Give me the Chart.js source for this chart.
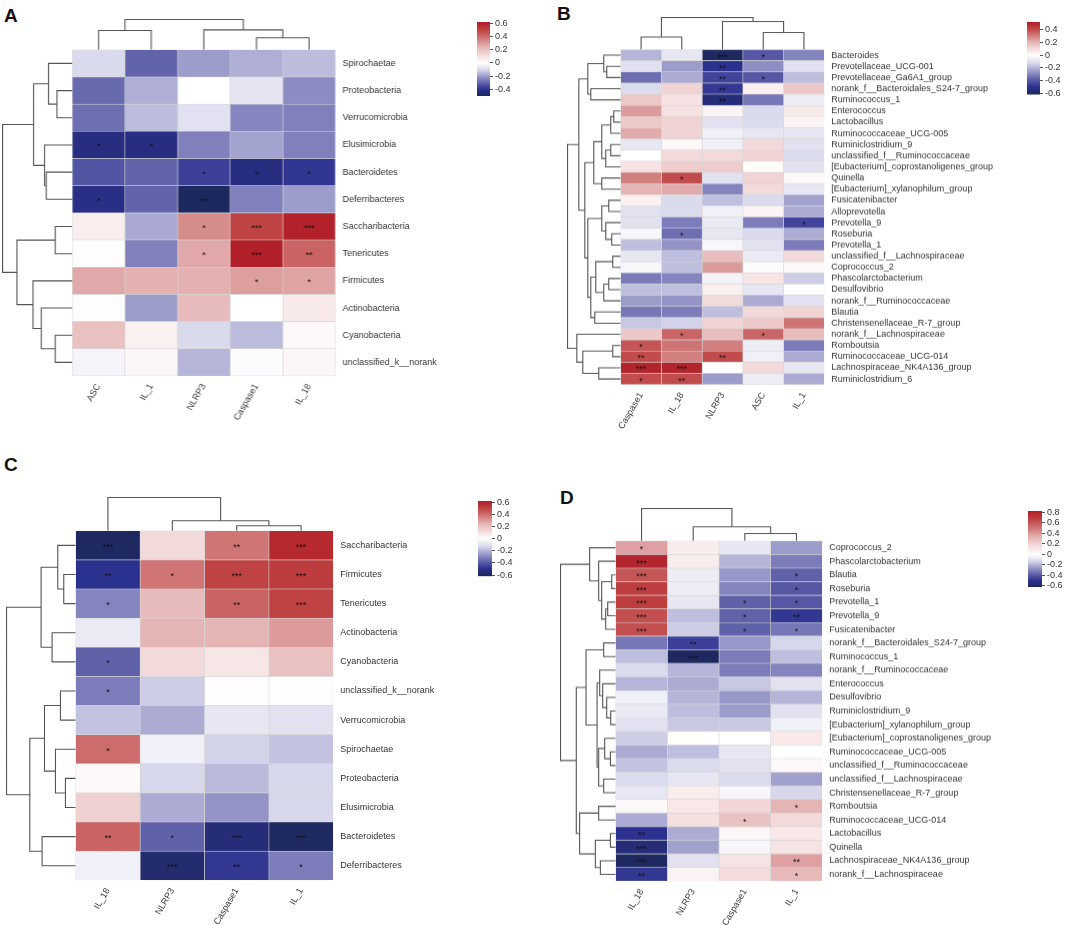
<!DOCTYPE html>
<html>
<head>
<meta charset="utf-8">
<script src="https://cdn.jsdelivr.net/npm/chart.js@4.4.1/dist/chart.umd.min.js"></script>
<style>
  body { margin: 0; background: #fff; width: 1065px; height: 925px; position: relative; overflow: hidden; }
  .box { position: absolute; }
  .tag { position: absolute; font: bold 19px "Liberation Sans", Arial, sans-serif; color: #111; line-height: 1; }
</style>
</head>
<body>
<div class="tag" style="left:4px;top:6px">A</div>
<div class="tag" style="left:557px;top:4px">B</div>
<div class="tag" style="left:4px;top:455px">C</div>
<div class="tag" style="left:560px;top:488px">D</div>

<script>
// ---- Panel A ----
const aRows = ['Spirochaetae', 'Proteobacteria', 'Verrucomicrobia', 'Elusimicrobia', 'Bacteroidetes', 'Deferribacteres',
  'Saccharibacteria', 'Tenericutes', 'Firmicutes', 'Actinobacteria', 'Cyanobacteria', 'unclassified_k__norank'];
const aCols = ['ASC', 'IL_1', 'NLRP3', 'Caspase1', 'IL_18'];
const aVals = [
  [-0.10, -0.30, -0.20, -0.17, -0.15],
  [-0.29, -0.17, 0.00, -0.07, -0.23],
  [-0.28, -0.15, -0.08, -0.24, -0.25],
  [-0.43, -0.43, -0.25, -0.19, -0.25],
  [-0.33, -0.30, -0.37, -0.43, -0.39],
  [-0.42, -0.30, -0.49, -0.25, -0.20],
  [0.06, -0.18, 0.33, 0.50, 0.60],
  [0.01, -0.25, 0.27, 0.61, 0.42],
  [0.27, 0.25, 0.25, 0.29, 0.28],
  [0.01, -0.20, 0.22, 0.00, 0.07],
  [0.20, 0.05, -0.10, -0.15, 0.02],
  [-0.03, 0.03, -0.16, -0.01, 0.03]
];
const aStars = ['. . . . .', '. . . . .', '. . . . .', '* * . . .', '. . * * *', '* . ** . .',
  '. . * *** ***', '. . * *** **', '. . . * *', '. . . . .', '. . . . .', '. . . . .'];
const aRowTree = [[1, 2, 15.3], [0, 12, 23.7], [4, 5, 26], [3, 14, 27.7], [13, 15, 38.7], [6, 7, 17],
  [10, 11, 17], [9, 18, 31], [8, 19, 39.3], [17, 20, 55.3], [16, 21, 69.7]];
const aColTree = [[3, 4, 12], [0, 1, 19.3], [2, 5, 20], [6, 7, 30.3]];
const aRange = [-0.5, 0.62];

// ---- Panel B ----
const bRows = ['Bacteroides', 'Prevotellaceae_UCG-001', 'Prevotellaceae_Ga6A1_group', 'norank_f__Bacteroidales_S24-7_group',
  'Ruminococcus_1', 'Enterococcus', 'Lactobacillus', 'Ruminococcaceae_UCG-005', 'Ruminiclostridium_9',
  'unclassified_f__Ruminococcaceae', '[Eubacterium]_coprostanoligenes_group', 'Quinella', '[Eubacterium]_xylanophilum_group',
  'Fusicatenibacter', 'Alloprevotella', 'Prevotella_9', 'Roseburia', 'Prevotella_1', 'unclassified_f__Lachnospiraceae',
  'Coprococcus_2', 'Phascolarctobacterium', 'Desulfovibrio', 'norank_f__Ruminococcaceae', 'Blautia',
  'Christensenellaceae_R-7_group', 'norank_f__Lachnospiraceae', 'Romboutsia', 'Ruminococcaceae_UCG-014',
  'Lachnospiraceae_NK4A136_group', 'Ruminiclostridium_6'];
const bCols = ['Caspase1', 'IL_18', 'NLRP3', 'ASC', 'IL_1'];
const bVals = [
  [-0.20, -0.08, -0.60, -0.40, -0.30],
  [-0.10, -0.25, -0.50, -0.28, -0.10],
  [-0.35, -0.22, -0.45, -0.40, -0.18],
  [-0.12, 0.12, -0.48, 0.04, 0.15],
  [0.15, 0.08, -0.55, -0.33, -0.06],
  [0.25, 0.08, 0.03, -0.12, 0.06],
  [0.15, 0.12, -0.10, -0.12, 0.03],
  [0.22, 0.12, -0.05, -0.08, -0.08],
  [-0.08, 0.02, -0.05, 0.10, -0.10],
  [0.00, 0.10, 0.10, 0.12, -0.12],
  [0.08, 0.14, 0.14, 0.01, -0.10],
  [0.30, 0.40, -0.10, 0.12, 0.02],
  [0.20, 0.22, -0.30, 0.10, -0.08],
  [0.04, -0.12, -0.18, -0.12, -0.24],
  [-0.10, -0.12, -0.05, 0.03, -0.22],
  [-0.10, -0.32, -0.07, -0.32, -0.45],
  [-0.03, -0.35, -0.08, -0.12, -0.22],
  [-0.18, -0.27, -0.03, -0.10, -0.32],
  [-0.08, -0.18, 0.18, -0.07, 0.10],
  [-0.03, -0.18, 0.25, 0.01, 0.02],
  [-0.32, -0.30, -0.04, 0.07, -0.15],
  [-0.18, -0.18, 0.04, -0.08, 0.00],
  [-0.25, -0.27, 0.10, -0.22, -0.10],
  [-0.33, -0.32, -0.18, 0.10, 0.12],
  [-0.16, -0.14, 0.12, 0.15, 0.32],
  [0.15, 0.35, 0.18, 0.35, 0.18],
  [0.38, 0.32, 0.30, -0.06, -0.32],
  [0.40, 0.30, 0.40, -0.05, -0.22],
  [0.50, 0.50, 0.00, 0.10, -0.08],
  [0.40, 0.40, -0.25, -0.06, -0.22]
];
const bStars = ['. . *** * .', '. . ** . .', '. . ** * .', '. . ** . .', '. . ** . .',
  '. . . . .', '. . . . .', '. . . . .', '. . . . .', '. . . . .', '. . . . .',
  '. * . . .', '. . . . .', '. . . . .', '. . . . .', '. . . . *', '. * . . .',
  '. . . . .', '. . . . .', '. . . . .', '. . . . .', '. . . . .', '. . . . .',
  '. . . . .', '. . . . .', '. * . * .', '* . . . .', '** . ** . .', '*** *** . . .', '* ** . . .'];
const bRowTree = [[1, 2, 14], [0, 30, 17], [3, 4, 30], [31, 32, 33], [5, 6, 7], [34, 7, 10], [8, 9, 10],
  [10, 36, 15], [35, 37, 19], [11, 12, 19], [38, 39, 27], [13, 14, 12], [16, 17, 9], [15, 42, 15],
  [41, 43, 19], [18, 19, 8], [20, 21, 12], [22, 46, 17], [45, 47, 25], [23, 24, 26], [48, 49, 30],
  [44, 50, 33], [40, 51, 36], [33, 52, 42], [26, 27, 8], [28, 29, 22], [54, 55, 38], [25, 56, 44], [53, 57, 53.3]];
const bColTree = [[0, 1, 12.5], [3, 4, 17], [2, 6, 28], [5, 7, 32]];
const bRange = [-0.62, 0.52];

// ---- Panel C ----
const cRows = ['Saccharibacteria', 'Firmicutes', 'Tenericutes', 'Actinobacteria', 'Cyanobacteria', 'unclassified_k__norank',
  'Verrucomicrobia', 'Spirochaetae', 'Proteobacteria', 'Elusimicrobia', 'Bacteroidetes', 'Deferribacteres'];
const cCols = ['IL_18', 'NLRP3', 'Caspase1', 'IL_1'];
const cVals = [
  [-0.60, 0.12, 0.38, 0.58],
  [-0.50, 0.38, 0.50, 0.52],
  [-0.30, 0.22, 0.42, 0.50],
  [-0.07, 0.24, 0.24, 0.30],
  [-0.38, 0.12, 0.08, 0.20],
  [-0.32, -0.15, 0.01, 0.01],
  [-0.17, -0.22, -0.08, -0.10],
  [0.40, -0.05, -0.14, -0.17],
  [0.02, -0.13, -0.19, -0.13],
  [0.15, -0.22, -0.27, -0.13],
  [0.42, -0.38, -0.55, -0.60],
  [-0.05, -0.57, -0.48, -0.32]
];
const cStars = ['*** . ** ***', '** * *** ***', '* . ** ***', '. . . .', '* . . .', '* . . .',
  '. . . .', '* . . .', '. . . .', '. . . .', '** * *** ***', '. *** ** *'];
const cRowTree = [[1, 2, 12], [0, 12, 18], [3, 4, 23.7], [13, 14, 34.7], [5, 6, 15.3], [8, 9, 10.3],
  [7, 17, 20.3], [16, 18, 31.3], [10, 11, 33.7], [19, 20, 46], [15, 21, 69.3]];
const cColTree = [[2, 3, 5], [1, 4, 10], [0, 5, 33.3]];
const cRange = [-0.62, 0.62];

// ---- Panel D ----
const dRows = ['Coprococcus_2', 'Phascolarctobacterium', 'Blautia', 'Roseburia', 'Prevotella_1', 'Prevotella_9',
  'Fusicatenibacter', 'norank_f__Bacteroidales_S24-7_group', 'Ruminococcus_1', 'norank_f__Ruminococcaceae',
  'Enterococcus', 'Desulfovibrio', 'Ruminiclostridium_9', '[Eubacterium]_xylanophilum_group',
  '[Eubacterium]_coprostanoligenes_group', 'Ruminococcaceae_UCG-005', 'unclassified_f__Ruminococcaceae',
  'unclassified_f__Lachnospiraceae', 'Christensenellaceae_R-7_group', 'Romboutsia', 'Ruminococcaceae_UCG-014',
  'Lactobacillus', 'Quinella', 'Lachnospiraceae_NK4A136_group', 'norank_f__Lachnospiraceae'];
const dCols = ['IL_18', 'NLRP3', 'Caspase1', 'IL_1'];
const dVals = [
  [0.38, 0.08, -0.08, -0.25],
  [0.78, 0.08, -0.20, -0.32],
  [0.60, -0.06, -0.26, -0.38],
  [0.68, -0.06, -0.30, -0.40],
  [0.68, -0.08, -0.38, -0.40],
  [0.62, -0.18, -0.38, -0.48],
  [0.62, -0.15, -0.38, -0.33],
  [-0.33, -0.46, -0.26, -0.13],
  [-0.18, -0.60, -0.32, -0.18],
  [-0.12, -0.20, -0.32, -0.30],
  [-0.20, -0.22, -0.16, -0.10],
  [-0.05, -0.20, -0.26, -0.20],
  [-0.07, -0.18, -0.25, -0.10],
  [-0.10, -0.16, -0.16, -0.05],
  [-0.15, 0.00, 0.00, 0.10],
  [-0.22, -0.18, -0.08, 0.00],
  [-0.17, -0.12, -0.10, 0.03],
  [-0.12, -0.08, -0.12, -0.24],
  [-0.08, 0.08, -0.03, -0.13],
  [0.03, 0.10, 0.18, 0.32],
  [-0.22, 0.14, 0.26, 0.16],
  [-0.50, -0.22, 0.04, 0.10],
  [-0.55, -0.24, -0.03, 0.12],
  [-0.60, -0.10, 0.12, 0.38],
  [-0.48, 0.05, 0.15, 0.30]
];
const dStars = ['* . . .', '*** . . .', '*** . . *', '*** . . *', '*** . * *', '*** . * **', '*** . * *',
  '. ** . .', '. *** . .', '. . . .', '. . . .', '. . . .', '. . . .', '. . . .', '. . . .', '. . . .',
  '. . . .', '. . . .', '. . . .', '. . . *', '. . * .', '** . . .', '*** . . .', '*** . . **', '** . . *'];
const dRowTree = [[2, 3, 4], [4, 5, 8], [6, 26, 10], [25, 27, 14], [1, 28, 17], [0, 29, 26], [7, 8, 12],
  [12, 13, 5], [11, 32, 9], [10, 33, 13], [9, 34, 16], [15, 16, 5.3], [14, 36, 11], [17, 18, 12],
  [37, 38, 17], [35, 39, 18.6], [31, 40, 29.6], [19, 20, 17], [21, 22, 5.3], [23, 24, 15.3],
  [43, 44, 20.3], [42, 45, 36], [41, 46, 39.3], [30, 47, 55]];
const dColTree = [[2, 3, 7.3], [1, 4, 14], [0, 5, 32.3]];
const dRange = [-0.62, 0.82];

// colour ramps (fraction of the panel's extreme -> colour)
const blueRamp = [[0, '#ffffff'], [0.2, '#dadaed'], [0.4, '#9d9dcc'], [0.6, '#6264ab'], [0.8, '#2c3190'], [1, '#1b2858']];
const redRamp = [[0, '#ffffff'], [0.2, '#f3d9d9'], [0.4, '#e4b2b2'], [0.6, '#d07878'], [0.8, '#c04444'], [1, '#b01c25']];

const hex = h => [1, 3, 5].map(i => parseInt(h.slice(i, i + 2), 16));
function rampColor(ramp, t) {
  t = Math.max(0, Math.min(1, t));
  for (let i = 1; i < ramp.length; i++) {
    if (t <= ramp[i][0]) {
      const [t0, c0] = ramp[i - 1], [t1, c1] = ramp[i];
      const f = (t - t0) / (t1 - t0), a = hex(c0), b = hex(c1);
      return 'rgb(' + a.map((v, k) => Math.round(v + (b[k] - v) * f)).join(',') + ')';
    }
  }
  return ramp[ramp.length - 1][1];
}
const colorFor = (v, [lo, hi]) => v >= 0 ? rampColor(redRamp, v / hi) : rampColor(blueRamp, v / lo);

Chart.defaults.font.family = '"Liberation Sans", Arial, sans-serif';
Chart.defaults.font.size = 9;
Chart.defaults.color = '#333';

// scales here must not push the plot area in for their end labels
const noPad = ax => { ax.paddingTop = 0; ax.paddingBottom = 0; ax.paddingLeft = 0; ax.paddingRight = 0; };

// dendrogram: links are [childA, childB, height]; ids >= n are earlier merges
function treePoints(links, n, span, rowTree) {
  const pos = [], ht = [];
  for (let i = 0; i < n; i++) { pos[i] = i + 0.5; ht[i] = 0; }
  const root = Math.max(...links.map(l => l[2]));
  const d = h => -h / root * span;
  const pts = [];
  links.forEach(([a, b, h], k) => {
    pos[n + k] = (pos[a] + pos[b]) / 2;
    ht[n + k] = h;
    [[ht[a], pos[a]], [h, pos[a]], [h, pos[b]], [ht[b], pos[b]]].forEach(([hh, p]) => {
      pts.push(rowTree ? { x: d(hh), y: p } : { x: p, y: d(hh) });
    });
    pts.push({ x: NaN, y: NaN });
  });
  return pts;
}

function addBox(left, top, width, height) {
  const div = document.createElement('div');
  div.className = 'box';
  Object.assign(div.style, { left: left + 'px', top: top + 'px', width: width + 'px', height: height + 'px' });
  const cv = document.createElement('canvas');
  div.appendChild(cv);
  document.body.appendChild(div);
  return cv;
}

function heatmap(p) {
  const nR = p.rows.length, nC = p.cols.length;
  const gw = p.grid[2] - p.grid[0], gh = p.grid[3] - p.grid[1];
  const colPx = gw / nC, rowPx = gh / nR;
  const xSpan = p.rowDendro / colPx, ySpan = p.colDendro / rowPx;
  const marks = p.stars.map(s => s.split(' ').map(t => t === '.' ? '' : t));

  const datasets = p.cols.map((c, ci) => ({
    type: 'bar',
    data: p.rows.map((r, ri) => ({ x: [ci, ci + 1], y: ri + 0.5 })),
    backgroundColor: p.rows.map((r, ri) => colorFor(p.vals[ri][ci], p.range)),
    borderColor: '#d6d6d6',
    borderWidth: 0.6,
    borderSkipped: false,
    barPercentage: 1,
    categoryPercentage: 1,
    grouped: false
  }));
  const treeStyle = { type: 'line', borderColor: '#555', borderWidth: 1.1, pointRadius: 0, spanGaps: false, clip: false, tension: 0 };
  datasets.push(Object.assign({ data: treePoints(p.rowTree, nR, xSpan, true) }, treeStyle));
  datasets.push(Object.assign({ data: treePoints(p.colTree, nC, ySpan, false) }, treeStyle));

  const cv = addBox(p.grid[0] - p.rowDendro, p.grid[1] - p.colDendro,
    p.rowDendro + gw + p.labelW, p.colDendro + gh + 70);

  new Chart(cv, {
    type: 'bar',
    data: { datasets },
    options: {
      indexAxis: 'y',
      responsive: true,
      maintainAspectRatio: false,
      animation: false,
      events: [],
      plugins: { legend: { display: false }, tooltip: { enabled: false } },
      scales: {
        x: {
          type: 'linear', position: 'bottom', min: -xSpan, max: nC,
          grid: { display: false, drawTicks: false }, border: { display: false },
          afterBuildTicks: ax => { ax.ticks = p.cols.map((c, i) => ({ value: i + 0.5 })); },
          afterFit: ax => { ax.height = 70; noPad(ax); },
          ticks: { autoSkip: false, minRotation: 60, maxRotation: 60, padding: 6, callback: (v, i) => p.cols[i] }
        },
        y: {
          type: 'linear', position: 'right', min: -ySpan, max: nR, reverse: true, offset: false,
          grid: { display: false, drawTicks: false }, border: { display: false },
          afterBuildTicks: ax => { ax.ticks = p.rows.map((r, i) => ({ value: i + 0.5 })); },
          afterFit: ax => { ax.width = p.labelW; noPad(ax); },
          ticks: { autoSkip: false, padding: 7, callback: (v, i) => p.rows[i] }
        }
      }
    },
    plugins: [{
      id: 'stars' + p.id,
      afterDatasetsDraw(chart) {
        const { ctx, scales: { x, y } } = chart;
        ctx.save();
        ctx.fillStyle = '#111';
        ctx.font = '9px "Liberation Sans", Arial, sans-serif';
        ctx.textAlign = 'center';
        ctx.textBaseline = 'middle';
        marks.forEach((row, ri) => row.forEach((s, ci) => {
          if (s) ctx.fillText(s, x.getPixelForValue(ci + 0.5), y.getPixelForValue(ri + 0.5) + 2);
        }));
        ctx.restore();
      }
    }]
  });

  // colour bar
  const [lo, hi] = p.range;
  const bar = addBox(p.bar[0], p.bar[1] - 6, p.bar[2] + 36, p.bar[3] + 12);
  new Chart(bar, {
    type: 'bar',
    data: {
      labels: [''],
      datasets: [{
        data: [[lo, hi]],
        borderWidth: 0,
        barPercentage: 1,
        categoryPercentage: 1,
        backgroundColor: ctx => {
          const chart = ctx.chart, y = chart.scales.y;
          if (!chart.chartArea || !y) return 'rgba(0,0,0,0)';
          const top = y.getPixelForValue(hi), bot = y.getPixelForValue(lo);
          if (!isFinite(top) || !isFinite(bot)) return 'rgba(0,0,0,0)';
          const g = chart.ctx.createLinearGradient(0, top, 0, bot);
          for (let k = 0; k <= 60; k++) {
            const v = hi - (hi - lo) * k / 60;
            g.addColorStop(k / 60, colorFor(v, p.range));
          }
          return g;
        }
      }]
    },
    options: {
      responsive: true,
      maintainAspectRatio: false,
      animation: false,
      events: [],
      layout: { padding: { top: 6, bottom: 6 } },
      plugins: { legend: { display: false }, tooltip: { enabled: false } },
      scales: {
        x: { display: false },
        y: {
          position: 'right', min: lo, max: hi,
          grid: { drawOnChartArea: false, tickLength: 3, color: '#555' },
          border: { display: false },
          afterFit: ax => { ax.width = 36; noPad(ax); },
          ticks: { stepSize: 0.2, autoSkip: false, includeBounds: false, padding: 2, callback: v => String(Math.round(v * 10) / 10) }
        }
      }
    }
  });
}

heatmap({ id: 'A', rows: aRows, cols: aCols, vals: aVals, stars: aStars, rowTree: aRowTree, colTree: aColTree,
  range: aRange, grid: [72, 49.3, 335, 376], rowDendro: 69.7, colDendro: 30.3, labelW: 130, bar: [477, 21.7, 13, 74] });
heatmap({ id: 'B', rows: bRows, cols: bCols, vals: bVals, stars: bStars, rowTree: bRowTree, colTree: bColTree,
  range: bRange, grid: [620, 49.3, 824, 384], rowDendro: 53.3, colDendro: 32, labelW: 190, bar: [1027, 21.7, 13, 72.6] });
heatmap({ id: 'C', rows: cRows, cols: cCols, vals: cVals, stars: cStars, rowTree: cRowTree, colTree: cColTree,
  range: cRange, grid: [75.3, 530, 333.3, 880], rowDendro: 69.3, colDendro: 33.3, labelW: 130, bar: [478, 500.7, 14, 75.3] });
heatmap({ id: 'D', rows: dRows, cols: dCols, vals: dVals, stars: dStars, rowTree: dRowTree, colTree: dColTree,
  range: dRange, grid: [615.3, 540.7, 822.3, 880.7], rowDendro: 55.3, colDendro: 32.3, labelW: 190, bar: [1028, 510.7, 14, 76] });
</script>
</body>
</html>
